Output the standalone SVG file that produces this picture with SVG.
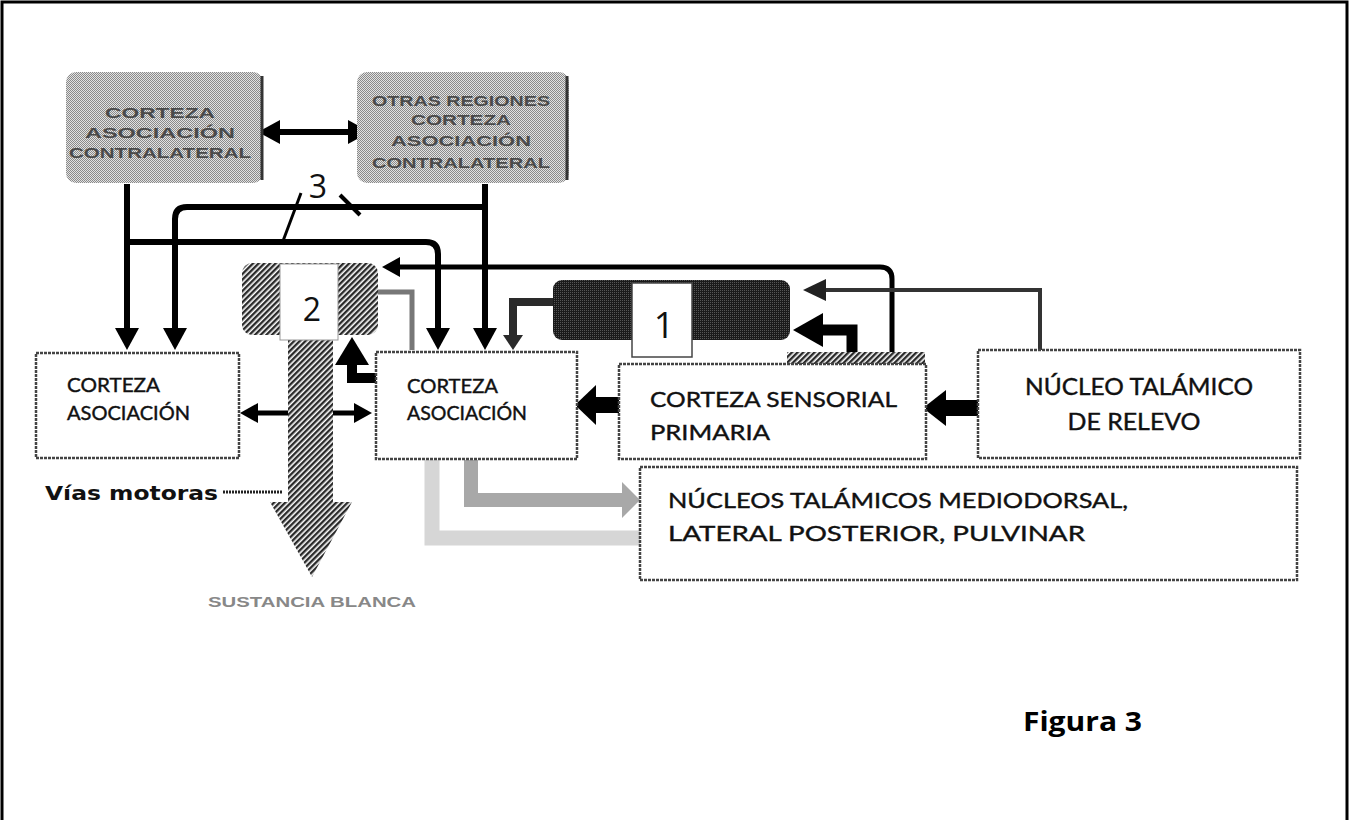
<svg xmlns="http://www.w3.org/2000/svg" width="1349" height="820" viewBox="0 0 1349 820">
<style>
.frame{fill:none;stroke:#000;stroke-width:3}
.wbox{fill:#fff;stroke:#444;stroke-width:2.5;stroke-dasharray:3 1}
.gbox{fill:url(#dots);stroke:none}
.t{font-family:Lato,"Liberation Sans",sans-serif;fill:#111;stroke:#111;stroke-width:0.4}
.tg{font-family:"Liberation Sans",Arial,sans-serif;fill:#4a4a4a;font-size:15px;font-weight:bold;text-anchor:middle}
.num{font-family:"Open Sans","Liberation Sans",sans-serif;fill:#111;text-anchor:middle}
.bl{fill:none;stroke:#000;stroke-width:6}
</style>
<defs>
<pattern id="hatch" width="4" height="4" patternUnits="userSpaceOnUse" patternTransform="rotate(45)">
<rect width="4" height="4" fill="#fff"/><rect width="2.4" height="4" fill="#2a2a2a"/>
</pattern>
<pattern id="dots" width="2" height="2" patternUnits="userSpaceOnUse">
<rect width="2" height="2" fill="#e2e2e2"/><rect width="1" height="1" fill="#8a8a8a"/><rect x="1" y="1" width="1" height="1" fill="#8a8a8a"/>
</pattern>
<pattern id="dark" width="2" height="2" patternUnits="userSpaceOnUse">
<rect width="2" height="2" fill="#1a1a1a"/><rect width="1" height="1" fill="#555"/>
</pattern>
<marker id="ah" viewBox="0 0 22 24" refX="0" refY="12" markerWidth="22" markerHeight="24" markerUnits="userSpaceOnUse" orient="auto-start-reverse">
<path d="M0,0 L22,12 L0,24 z" fill="#000"/>
</marker>
<marker id="ahs" viewBox="0 0 18 20" refX="0" refY="10" markerWidth="18" markerHeight="20" markerUnits="userSpaceOnUse" orient="auto-start-reverse">
<path d="M0,0 L18,10 L0,20 z" fill="#000"/>
</marker>
</defs>
<rect width="1349" height="820" fill="#fff"/>
<path class="frame" d="M2,822 V2 H1347 V822"/>

<g id="connectors">
<path d="M432,460 V538 H640" fill="none" stroke="#d6d6d6" stroke-width="15"/>
<path d="M471,460 V500 H622" fill="none" stroke="#a8a8a8" stroke-width="14"/>
<polygon points="622,482 640,500 622,518" fill="#a8a8a8"/>
<path d="M412,350 V292 H378" fill="none" stroke="#777" stroke-width="5"/>
<path class="bl" d="M127,184 V328" marker-end="url(#ah)"/>
<path class="bl" d="M127,242 H426 Q438,242 438,254 V328" marker-end="url(#ah)"/>
<path class="bl" d="M485,184 V328" marker-end="url(#ah)"/>
<path class="bl" d="M485,207 H187 Q175,207 175,219 V328" marker-end="url(#ah)"/>
<path class="bl" d="M280,132 H348" marker-start="url(#ah)" marker-end="url(#ah)"/>
<path fill="none" stroke="#000" stroke-width="5" d="M258,413 H354" marker-start="url(#ahs)" marker-end="url(#ahs)"/>
<path fill="none" stroke="#000" stroke-width="5" d="M892,363 V279 Q892,267 880,267 H400" marker-end="url(#ahs)"/>
<path fill="none" stroke="#333" stroke-width="4" d="M1040,350 V290 H826"/>
<polygon points="826,279 803,290 826,301" fill="#222"/>
<path fill="none" stroke="#000" stroke-width="11" d="M852,365 V330 H822"/>
<polygon points="823,313 793,330 823,347" fill="#000"/>
<path fill="none" stroke="#000" stroke-width="10" d="M376,378 H352 V362"/>
<polygon points="335,365 352,337 369,365" fill="#000"/>
<rect x="594" y="397" width="25" height="16" fill="#000"/>
<polygon points="596,385 575,405 596,425" fill="#000"/>
<rect x="944" y="400" width="35" height="16" fill="#000"/>
<polygon points="946,390 923,408 946,426" fill="#000"/>
<path fill="none" stroke="#2a2a2a" stroke-width="8" d="M556,302 H513 V336"/>
<polygon points="503,335 513,350 523,335" fill="#2a2a2a"/>
<path fill="none" stroke="#000" stroke-width="3" d="M301,193 L283,241"/>
<path fill="none" stroke="#000" stroke-width="4" d="M340,195 L360,215"/>
<path fill="none" stroke="#222" stroke-width="3" stroke-dasharray="2 1" d="M223,492 H282"/>
</g>

<g id="contralateral">
<rect class="gbox" x="66" y="72" width="197" height="111" rx="10"/>
<path d="M262,76 V180" stroke="#333" stroke-width="3"/>
<text class="tg" x="160" y="118" textLength="110" lengthAdjust="spacingAndGlyphs">CORTEZA</text>
<text class="tg" x="160" y="138" textLength="150" lengthAdjust="spacingAndGlyphs">ASOCIACIÓN</text>
<text class="tg" x="160" y="158" textLength="182" lengthAdjust="spacingAndGlyphs">CONTRALATERAL</text>
</g>

<g id="otras-regiones">
<rect class="gbox" x="357" y="72" width="212" height="111" rx="10"/>
<path d="M567,76 V180" stroke="#333" stroke-width="3"/>
<text class="tg" x="461" y="106" textLength="178" lengthAdjust="spacingAndGlyphs">OTRAS REGIONES</text>
<text class="tg" x="461" y="125" textLength="100" lengthAdjust="spacingAndGlyphs">CORTEZA</text>
<text class="tg" x="461" y="146" textLength="140" lengthAdjust="spacingAndGlyphs">ASOCIACIÓN</text>
<text class="tg" x="461" y="168" textLength="178" lengthAdjust="spacingAndGlyphs">CONTRALATERAL</text>
</g>

<g id="label-3">
<text class="num" x="318" y="198" font-size="32">3</text>
</g>

<g id="box-2">
<rect x="242" y="263" width="136" height="72" rx="10" fill="url(#hatch)"/>
<polygon points="288,335 333,335 333,502 352,502 312,577 270,502 288,502" fill="url(#hatch)"/>
<rect x="280" y="264" width="58" height="76" fill="#fff" stroke="#999" stroke-width="1"/>
<text class="num" x="312" y="321" font-size="32">2</text>
</g>

<g id="box-1">
<rect x="787" y="352" width="138" height="14" fill="url(#hatch)"/>
<rect x="553" y="280" width="237" height="60" rx="9" fill="url(#dark)"/>
<rect x="632" y="283" width="60" height="74" fill="#fff" stroke="#444" stroke-width="1.5"/>
<text class="num" x="664" y="338" font-size="36">1</text>
</g>

<g id="asociacion-izq">
<rect class="wbox" x="36" y="353" width="203" height="105"/>
<text class="t" x="67" y="392" font-size="19" textLength="93" lengthAdjust="spacingAndGlyphs">CORTEZA</text>
<text class="t" x="67" y="420" font-size="19" textLength="123" lengthAdjust="spacingAndGlyphs">ASOCIACIÓN</text>
</g>

<g id="asociacion-centro">
<rect class="wbox" x="376" y="352" width="201" height="107"/>
<text class="t" x="407" y="393" font-size="19" textLength="91" lengthAdjust="spacingAndGlyphs">CORTEZA</text>
<text class="t" x="407" y="420" font-size="19" textLength="120" lengthAdjust="spacingAndGlyphs">ASOCIACIÓN</text>
</g>

<g id="sensorial">
<rect class="wbox" x="619" y="364" width="307" height="95"/>
<text class="t" x="650" y="407" font-size="22" textLength="247" lengthAdjust="spacingAndGlyphs">CORTEZA SENSORIAL</text>
<text class="t" x="650" y="440" font-size="22" textLength="120" lengthAdjust="spacingAndGlyphs">PRIMARIA</text>
</g>

<g id="nucleo-relevo">
<rect class="wbox" x="978" y="350" width="322" height="108"/>
<text class="t" x="1139" y="395" font-size="23" text-anchor="middle" textLength="228" lengthAdjust="spacingAndGlyphs">NÚCLEO TALÁMICO</text>
<text class="t" x="1134" y="430" font-size="23" text-anchor="middle" textLength="133" lengthAdjust="spacingAndGlyphs">DE RELEVO</text>
</g>

<g id="nucleos-talamicos">
<rect class="wbox" x="640" y="467" width="657" height="113"/>
<text class="t" x="668" y="508" font-size="22" textLength="460" lengthAdjust="spacingAndGlyphs">NÚCLEOS TALÁMICOS MEDIODORSAL,</text>
<text class="t" x="668" y="541" font-size="22" textLength="417" lengthAdjust="spacingAndGlyphs">LATERAL POSTERIOR, PULVINAR</text>
</g>

<g id="labels">
<text x="45" y="500" font-family="'DejaVu Sans','Liberation Sans',sans-serif" font-weight="bold" font-size="19" fill="#111" textLength="173" lengthAdjust="spacingAndGlyphs">Vías motoras</text>
<text x="312" y="607" font-family="'Liberation Sans',Arial,sans-serif" font-size="15" font-weight="bold" fill="#888" text-anchor="middle" textLength="208" lengthAdjust="spacingAndGlyphs">SUSTANCIA BLANCA</text>
<text x="1023" y="731" font-family="'Open Sans','Liberation Sans',sans-serif" font-weight="bold" font-size="26" fill="#000" textLength="119" lengthAdjust="spacingAndGlyphs">Figura 3</text>
</g>
</svg>
